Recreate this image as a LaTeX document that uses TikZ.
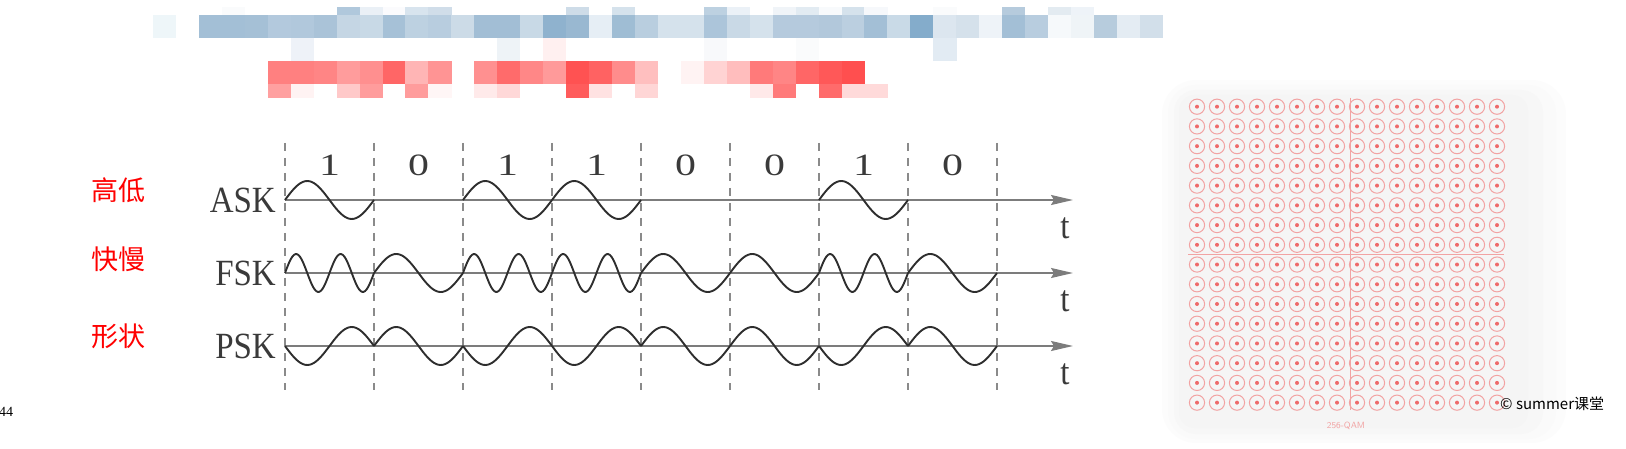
\documentclass[tikz,border=0pt]{standalone}
\usepackage{fontspec}
\setmainfont{Liberation Serif}
\newfontfamily\cjk{Noto Sans CJK SC}
\usetikzlibrary{positioning,arrows.meta}
\definecolor{axisgray}{HTML}{7C7C7C}
\definecolor{wavegray}{HTML}{2E2E2E}
\definecolor{dashgray}{HTML}{8A8A8A}
\definecolor{textgray}{HTML}{3A3A3A}
\definecolor{qamring}{HTML}{F2A3A3}
\definecolor{qamdot}{HTML}{EE6A6A}

\begin{document}
\begin{tikzpicture}[x=1pt,y=-1pt,
  wave/.style={line width=1.9pt,color=wavegray,line join=round},
  axis/.style={line width=1.8pt,color=axisgray,-{Stealth[length=22pt,width=10pt,inset=3pt]}},
  marker/.style={line width=2.4pt,color=dashgray,dash pattern=on 8pt off 7pt},
  sig/.style={inner sep=0pt,text=textgray,font=\fontsize{33}{33}\selectfont,yscale=1.12},
  bit/.style={inner sep=0pt,text=textgray,font=\fontsize{31}{31}\selectfont,xscale=1.35},
  hint/.style={inner sep=0pt,text=red,font=\cjk\fontsize{27}{27}\selectfont}]
  \useasboundingbox (0,0) rectangle (1626,449);

  % mosaic at the top
  \foreach \i/\c in {3/FAFBFC,8/B0C8DC,9/EAF0F6,10/FBFBFD,11/D8E4EE,12/D0DDE9,18/CEDCE8,20/D5E2EC,24/BDD1E1,25/EBF1F7,27/F0F4F8,28/E2EBF2,29/F8FAFC,30/D5E2EC,31/F6F8FB,34/FAFBFC,37/B6CBDD,39/E3EBF1,40/EEF3F8}
    {\definecolor{mz}{HTML}{\c}\fill[mz] ({153+22.95*\i},7) rectangle +(23.2,8.2);}
  \foreach \i/\c in {0/EEF6F9,2/A3BFD6,3/A3BFD6,4/A5C0D6,5/B3C9DD,6/B1C8DC,7/AAC3D8,8/C5D6E4,9/C8D9E6,10/A6C1D7,11/BDD1E1,12/B8CDDF,13/CCDBE7,14/A2BED5,15/A2BED5,16/C8D9E6,17/8FB2CE,18/99B8D1,19/E6EEF5,20/9FBDD4,21/B9CEDF,22/D5E2EC,23/D5E2EC,24/ACC5DA,25/C9D9E6,26/D5E2EC,27/B5CADD,28/B5CADD,29/B2C8DB,30/BBCFE0,31/A3BFD6,32/C9DAE7,33/84ACCB,34/DCE6EF,35/D5E1EB,36/EEF3F8,37/A3BFD6,38/B8CDDF,39/F6F9FB,40/EFF4F7,41/B7CCDD,42/E4ECF3,43/D2DFEA}
    {\definecolor{mz}{HTML}{\c}\fill[mz] ({153+22.95*\i},15) rectangle +(23.2,23.2);}
  \foreach \i/\c in {6/EEF2F8,15/EEF3F7,17/FFF0F0,24/F8F9FB,28/FAFBFC,34/E2EBF3}
    {\definecolor{mz}{HTML}{\c}\fill[mz] ({153+22.95*\i},38) rectangle +(23.2,23.2);}
  \foreach \i/\c in {5/FF8080,6/FF8080,7/FF8585,8/FF9C9C,9/FF8F8F,10/FF6666,11/FFB5B5,12/FF9494,14/FF9090,15/FF6B6B,16/FF8787,17/FF9A9A,18/FF5252,19/FF6262,20/FF8C8C,21/FFBFBF,23/FFF3F3,24/FFD3D3,25/FFBDBD,26/FF7A7A,27/FF8585,28/FF6666,29/FF5858,30/FF4F4F}
    {\definecolor{mz}{HTML}{\c}\fill[mz] ({153+22.95*\i},61) rectangle +(23.2,23.2);}
  \foreach \i/\c in {5/FFA0A0,6/FFF3F3,8/FFC9C9,9/FF9C9C,11/FF9C9C,12/FFF6F6,14/FFEAEA,15/FFD8D8,18/FF5C5C,19/FFE2E2,21/FFD6D6,26/FFE9E9,27/FF7A7A,29/FF6B6B,30/FFDADA,31/FFDADA}
    {\definecolor{mz}{HTML}{\c}\fill[mz] ({153+22.95*\i},84) rectangle +(23.2,14);}

  % hints
  \node[hint] (high) at (118,190) {高低};
  \node[hint] (fast) at (118,259) {快慢};
  \node[hint] (form) at (118,336) {形状};
  \node[inner sep=0pt,anchor=west,font=\fontsize{14}{14}\selectfont] (page) at (-1,412) {44};

  % bit borders
  \foreach \k in {0,...,8}
    \draw[marker] ({285+89*\k},143) -- ({285+89*\k},390);

  % axes
  \foreach \n/\y/\t in {ask/200/ASK,fsk/273/FSK,psk/346/PSK} {
    \coordinate (\n S) at (285,\y);
    \coordinate (\n E) at (1073,\y);
    \draw[axis] (\n S) -- (\n E);
    \node[sig,left=9pt of \n S] (\n L) {\t};
    \path (\n E) ++(-8,28) node[sig] (\n T) {t};
  }

  % bits and waves
  \foreach \b [count=\i from 0] in {1,0,1,1,0,0,1,0} {
    \node[bit] (bit\i) at ({329.5+89*\i},165) {\b};
    \pgfmathsetmacro\xo{285+89*\i}
    \ifnum\b=1
      \draw[wave] plot[domain=0:1,samples=41,smooth] ({\xo+89*\x},{200-19*sin(360*\x)});
    \fi
    \draw[wave] plot[domain=0:1,samples=61,smooth] ({\xo+89*\x},{273-19*sin(360*(1+\b)*\x)});
    \draw[wave] plot[domain=0:1,samples=41,smooth] ({\xo+89*\x},{346+(2*\b-1)*19*sin(360*\x)});
  }

  % 256-QAM card
  \fill[gray!2,rounded corners=34pt] (1162,80) rectangle (1566,443);
  \fill[gray!4,rounded corners=28pt] (1168,85) rectangle (1556,439);
  \fill[gray!6,rounded corners=22pt] (1174,90) rectangle (1543,434);
  \fill[gray!8,rounded corners=16pt] (1179,95) rectangle (1528,428);
  \foreach \r in {0,...,15}
    \foreach \c in {0,...,15} {
      \draw[qamring,line width=1pt] ({1197+20*\c},{106.7+19.73*\r}) circle (7.6pt);
      \fill[qamdot] ({1197+20*\c},{106.7+19.73*\r}) circle (2pt);
    }
  \coordinate (qN) at (1350,98);
  \coordinate (qS) at (1350,410);
  \coordinate (qW) at (1188,254.3);
  \coordinate (qE) at (1504,254.3);
  \draw[qamring,line width=1pt] (qN) -- (qS);
  \draw[qamring,line width=1pt] (qW) -- (qE);
  \node[inner sep=0pt,text=qamring,font=\sffamily\fontsize{9}{9}\selectfont] (qam) at (1346,426) {256-QAM};
  \node[inner sep=0pt,anchor=west,font=\cjk\fontsize{15}{15}\selectfont] (copy) at (1500,404) {© summer课堂};
\end{tikzpicture}
\end{document}
